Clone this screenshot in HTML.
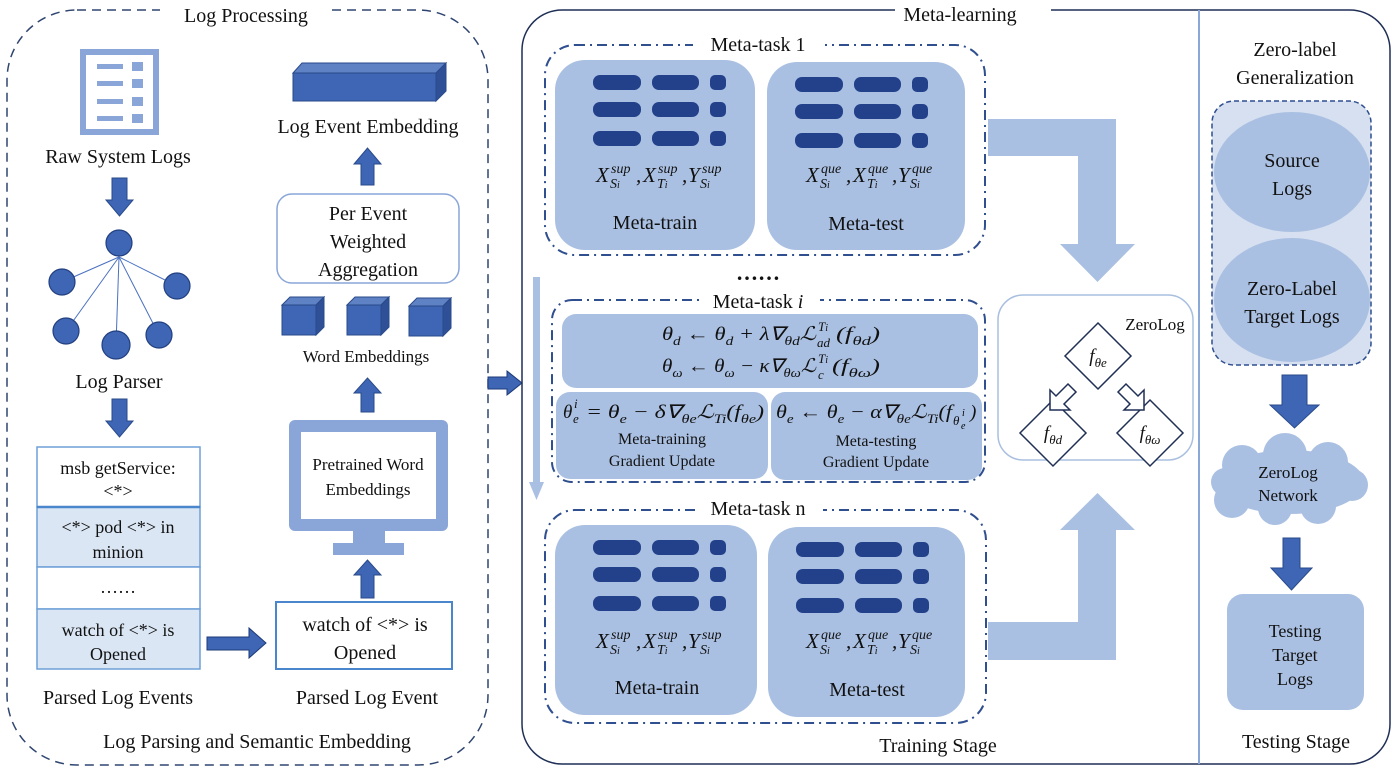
<!DOCTYPE html>
<html><head><meta charset="utf-8"><style>
html,body{margin:0;padding:0;background:#fff;}
svg{display:block;font-family:"Liberation Serif",serif;}
.t{font-size:20px;fill:#111;text-anchor:middle;}
.m{font-style:italic;font-size:19px;fill:#111;text-anchor:middle;}
.x{font-style:italic;font-size:21px;fill:#111;}
.s{font-style:italic;font-size:14px;fill:#111;}
.f{font-style:italic;font-size:19px;fill:#111;}
.fs{font-style:italic;font-size:13px;fill:#111;}
</style></head><body>
<svg width="1399" height="772" viewBox="0 0 1399 772" xmlns="http://www.w3.org/2000/svg">
<defs>
<g id="bars" fill="#22418a">
<rect x="0" y="0" width="48" height="15" rx="7"/><rect x="59" y="0" width="47" height="15" rx="7"/><rect x="117" y="0" width="16" height="15" rx="5"/>
<rect x="0" y="27" width="48" height="15" rx="7"/><rect x="59" y="27" width="47" height="15" rx="7"/><rect x="117" y="27" width="16" height="15" rx="5"/>
<rect x="0" y="56" width="48" height="15" rx="7"/><rect x="59" y="56" width="47" height="15" rx="7"/><rect x="117" y="56" width="16" height="15" rx="5"/>
</g>
<g id="cube"><polygon points="0,8 8,0 42,0 34,8" fill="#5f82c4" stroke="#2a4a8a" stroke-width="1"/><polygon points="34,8 42,0 42,30 34,38" fill="#2f5096" stroke="#2a4a8a" stroke-width="1"/><rect x="0" y="8" width="34" height="30" fill="#3e66b5" stroke="#2a4a8a" stroke-width="1"/></g>
<g id="fsup">
<text class="x" x="0" y="0">X</text><text class="s" x="15" y="-9">sup</text><text class="s" x="14" y="6">S<tspan font-size="10">i</tspan></text><text class="x" x="40" y="0">,</text>
<text class="x" x="47" y="0">X</text><text class="s" x="62" y="-9">sup</text><text class="s" x="61" y="6">T<tspan font-size="10">i</tspan></text><text class="x" x="86" y="0">,</text>
<text class="x" x="92" y="0">Y</text><text class="s" x="106" y="-9">sup</text><text class="s" x="104" y="6">S<tspan font-size="10">i</tspan></text>
</g>
<g id="fque">
<text class="x" x="0" y="0">X</text><text class="s" x="15" y="-9">que</text><text class="s" x="14" y="6">S<tspan font-size="10">i</tspan></text><text class="x" x="40" y="0">,</text>
<text class="x" x="47" y="0">X</text><text class="s" x="62" y="-9">que</text><text class="s" x="61" y="6">T<tspan font-size="10">i</tspan></text><text class="x" x="86" y="0">,</text>
<text class="x" x="92" y="0">Y</text><text class="s" x="106" y="-9">que</text><text class="s" x="104" y="6">S<tspan font-size="10">i</tspan></text>
</g>
</defs>

<!-- LEFT PANEL -->
<rect x="7" y="10" width="481" height="755" rx="70" fill="none" stroke="#2f4570" stroke-width="1.5" stroke-dasharray="9,6"/>
<rect x="160" y="2" width="172" height="22" fill="#fff"/>
<text class="t" x="246" y="22">Log Processing</text>

<rect x="83" y="52" width="73" height="80" fill="#fff" stroke="#8aa6d8" stroke-width="6"/>
<g fill="#8aa6d8"><rect x="97" y="64" width="26" height="5"/><rect x="97" y="81" width="26" height="5"/><rect x="97" y="99" width="26" height="5"/><rect x="97" y="116" width="26" height="5"/>
<rect x="132" y="62" width="11" height="9"/><rect x="132" y="79" width="11" height="9"/><rect x="132" y="97" width="11" height="9"/><rect x="132" y="114" width="11" height="9"/></g>
<text class="t" x="118" y="163">Raw System Logs</text>
<polygon points="112,178 127,178 127,200 133,200 119.5,216 106,200 112,200" fill="#3e66b5" stroke="#2a4a8a"/>
<g stroke="#4a70c0" stroke-width="1"><line x1="119" y1="257" x2="62" y2="282"/><line x1="119" y1="257" x2="177" y2="286"/><line x1="119" y1="257" x2="66" y2="331"/><line x1="119" y1="257" x2="116" y2="345"/><line x1="119" y1="257" x2="159" y2="335"/></g>
<g fill="#3e66b5" stroke="#223f80" stroke-width="1.2"><circle cx="119" cy="243" r="13"/><circle cx="62" cy="282" r="13"/><circle cx="177" cy="286" r="13"/><circle cx="66" cy="331" r="13"/><circle cx="116" cy="345" r="14"/><circle cx="159" cy="335" r="13"/></g>
<text class="t" x="119" y="388">Log Parser</text>
<polygon points="112,399 127,399 127,421 133,421 119.5,437 106,421 112,421" fill="#3e66b5" stroke="#2a4a8a"/>
<g stroke="#6fa0d8" stroke-width="1.5"><rect x="37" y="447" width="163" height="60" fill="#fff"/><rect x="37" y="507" width="163" height="60" fill="#dae6f4"/><rect x="37" y="567" width="163" height="42" fill="#fff"/><rect x="37" y="609" width="163" height="60" fill="#dae6f4"/></g>
<line x1="37" y1="507" x2="200" y2="507" stroke="#4a86cc" stroke-width="2.5"/>
<text class="t" style="font-size:18px" x="118" y="474">msb getService:</text><text class="t" style="font-size:18px" x="118" y="497">&lt;*&gt;</text>
<text class="t" style="font-size:18px" x="118" y="533">&lt;*&gt; pod &lt;*&gt; in</text><text class="t" style="font-size:18px" x="118" y="558">minion</text>
<text class="t" style="font-size:18px" x="118" y="593">……</text>
<text class="t" style="font-size:18px" x="118" y="636">watch of &lt;*&gt; is</text><text class="t" style="font-size:18px" x="118" y="660">Opened</text>
<text class="t" x="118" y="704">Parsed Log Events</text>
<polygon points="207,637 249,637 249,628 266,643 249,658 249,650 207,650" fill="#3e66b5" stroke="#1d3a78"/>
<rect x="276" y="602" width="176" height="67" fill="#fff" stroke="#4a86cc" stroke-width="2"/>
<text class="t" x="365" y="631">watch of &lt;*&gt; is</text><text class="t" x="365" y="659">Opened</text>
<text class="t" x="367" y="704">Parsed Log Event</text>
<text class="t" x="257" y="748">Log Parsing and Semantic Embedding</text>
<polygon points="361,598 374,598 374,575 381,575 367.5,560 354,575 361,575" fill="#3e66b5" stroke="#2a4a8a"/>
<rect x="289" y="420" width="159" height="111" rx="6" fill="#8aa6d8"/>
<rect x="301" y="432" width="135" height="87" fill="#fff"/>
<rect x="353" y="530" width="32" height="14" fill="#8aa6d8"/><rect x="333" y="543" width="71" height="12" fill="#8aa6d8"/>
<text class="t" style="font-size:17px" x="368" y="470">Pretrained Word</text><text class="t" style="font-size:17px" x="368" y="495">Embeddings</text>
<polygon points="361,412 374,412 374,393 381,393 367.5,378 354,393 361,393" fill="#3e66b5" stroke="#2a4a8a"/>
<text class="t" style="font-size:17px" x="366" y="362">Word Embeddings</text>
<use href="#cube" x="282" y="297"/><use href="#cube" x="347" y="297"/><use href="#cube" x="409" y="298"/>
<rect x="277" y="194" width="182" height="89" rx="15" fill="#fff" stroke="#8aa6d8" stroke-width="1.5"/>
<text class="t" x="368" y="220">Per Event</text><text class="t" x="368" y="248">Weighted</text><text class="t" x="368" y="276">Aggregation</text>
<polygon points="361,185 374,185 374,164 381,164 367.5,148 354,164 361,164" fill="#3e66b5" stroke="#2a4a8a"/>
<text class="t" x="368" y="133">Log Event Embedding</text>
<polygon points="293,73 302,63 446,63 436,73" fill="#5f82c4" stroke="#2a4a8a"/>
<polygon points="436,73 446,63 446,91 436,101" fill="#2f5096" stroke="#2a4a8a"/>
<rect x="293" y="73" width="143" height="28" fill="#3e66b5" stroke="#2a4a8a"/>

<polygon points="488,377 507,377 507,371 522,383 507,395 507,389 488,389" fill="#3e66b5" stroke="#1d3a78"/>

<!-- META PANEL -->
<rect x="522" y="10" width="868" height="754" rx="40" fill="none" stroke="#1f2f55" stroke-width="1.5"/>
<rect x="895" y="2" width="156" height="22" fill="#fff"/>
<text class="t" x="960" y="21">Meta-learning</text>
<line x1="1199" y1="10" x2="1199" y2="764" stroke="#8aa8d8" stroke-width="2"/>

<!-- task 1 -->
<rect x="545" y="45" width="440" height="210" rx="30" fill="none" stroke="#2f4f8f" stroke-width="2" stroke-dasharray="10,5,2,5"/>
<rect x="693" y="33" width="132" height="24" fill="#fff"/>
<text class="t" x="758" y="51">Meta-task 1</text>
<rect x="555" y="60" width="200" height="190" rx="30" fill="#aac0e2"/>
<rect x="767" y="62" width="198" height="188" rx="30" fill="#aac0e2"/>
<use href="#bars" x="593" y="75"/><use href="#bars" x="795" y="77"/>
<use href="#fsup" x="596" y="182"/><use href="#fque" x="806" y="182"/>
<text class="t" x="655" y="229">Meta-train</text><text class="t" x="866" y="230">Meta-test</text>

<text class="t" x="758" y="280" style="font-size:22px;font-weight:bold">……</text>
<rect x="533" y="277" width="7" height="205" fill="#aac0e2"/>
<polygon points="529,482 544,482 536.5,500" fill="#aac0e2"/>

<!-- task i -->
<rect x="552" y="300" width="433" height="182" rx="20" fill="none" stroke="#2f4f8f" stroke-width="2" stroke-dasharray="10,5,2,5"/>
<rect x="700" y="290" width="120" height="22" fill="#fff"/>
<text class="t" x="758" y="308">Meta-task <tspan font-style="italic">i</tspan></text>
<rect x="562" y="314" width="416" height="74" rx="14" fill="#aac0e2"/>
<rect x="556" y="392" width="212" height="87" rx="14" fill="#aac0e2"/>
<rect x="771" y="392" width="211" height="88" rx="14" fill="#aac0e2"/>

<text class="f" x="662" y="340" textLength="154" lengthAdjust="spacingAndGlyphs">θ<tspan class="fs" dy="5">d</tspan><tspan dy="-5"> ← θ</tspan><tspan class="fs" dy="5">d</tspan><tspan dy="-5"> + λ∇</tspan><tspan class="fs" dy="5">θd</tspan><tspan dy="-5">ℒ</tspan></text>
<text class="fs" x="818" y="331">T<tspan font-size="10">i</tspan></text><text class="fs" x="817" y="347">ad</text>
<text class="f" x="836" y="340" textLength="44" lengthAdjust="spacingAndGlyphs">(f<tspan class="fs" dy="5">θd</tspan><tspan dy="-5">)</tspan></text>

<text class="f" x="662" y="372" textLength="154" lengthAdjust="spacingAndGlyphs">θ<tspan class="fs" dy="5">ω</tspan><tspan dy="-5"> ← θ</tspan><tspan class="fs" dy="5">ω</tspan><tspan dy="-5"> − κ∇</tspan><tspan class="fs" dy="5">θω</tspan><tspan dy="-5">ℒ</tspan></text>
<text class="fs" x="818" y="363">T<tspan font-size="10">i</tspan></text><text class="fs" x="818" y="379">c</text>
<text class="f" x="832" y="372" textLength="48" lengthAdjust="spacingAndGlyphs">(f<tspan class="fs" dy="5">θω</tspan><tspan dy="-5">)</tspan></text>

<text class="f" x="563" y="418">θ</text><text class="fs" x="574" y="408">i</text><text class="fs" x="573" y="423">e</text>
<text class="f" x="586" y="418" textLength="178" lengthAdjust="spacingAndGlyphs">= θ<tspan class="fs" dy="5">e</tspan><tspan dy="-5"> − δ∇</tspan><tspan class="fs" dy="5">θe</tspan><tspan dy="-5">ℒ</tspan><tspan class="fs" dy="5">Ti</tspan><tspan dy="-5">(f</tspan><tspan class="fs" dy="5">θe</tspan><tspan dy="-5">)</tspan></text>

<text class="f" x="776" y="418" textLength="176" lengthAdjust="spacingAndGlyphs">θ<tspan class="fs" dy="5">e</tspan><tspan dy="-5"> ← θ</tspan><tspan class="fs" dy="5">e</tspan><tspan dy="-5"> − α∇</tspan><tspan class="fs" dy="5">θe</tspan><tspan dy="-5">ℒ</tspan><tspan class="fs" dy="5">Ti</tspan><tspan dy="-5">(f</tspan></text>
<text class="fs" x="953" y="425">θ</text><text style="font-style:italic;font-size:10px" x="961" y="429">e</text><text style="font-style:italic;font-size:10px" x="962" y="416">i</text>
<text class="f" x="970" y="418">)</text>

<text class="t" style="font-size:16px" x="662" y="444">Meta-training</text><text class="t" style="font-size:16px" x="662" y="466">Gradient Update</text>
<text class="t" style="font-size:16px" x="876" y="446">Meta-testing</text><text class="t" style="font-size:16px" x="876" y="467">Gradient Update</text>

<!-- task n -->
<rect x="545" y="510" width="441" height="213" rx="30" fill="none" stroke="#2f4f8f" stroke-width="2" stroke-dasharray="10,5,2,5"/>
<rect x="695" y="500" width="128" height="24" fill="#fff"/>
<text class="t" x="758" y="515">Meta-task n</text>
<rect x="555" y="525" width="202" height="190" rx="30" fill="#aac0e2"/>
<rect x="768" y="527" width="197" height="190" rx="30" fill="#aac0e2"/>
<use href="#bars" x="593" y="540"/><use href="#bars" x="796" y="542"/>
<use href="#fsup" x="596" y="648"/><use href="#fque" x="806" y="648"/>
<text class="t" x="657" y="694">Meta-train</text><text class="t" x="867" y="696">Meta-test</text>
<text class="t" x="938" y="752">Training Stage</text>

<!-- big L arrows -->
<polygon points="988,119 1116,119 1116,244 1135,244 1097.5,282 1060,244 1078,244 1078,156 988,156" fill="#aac0e2"/>
<polygon points="988,660 1116,660 1116,530 1135,530 1097.5,493 1060,530 1078,530 1078,622 988,622" fill="#aac0e2"/>

<!-- ZeroLog box -->
<rect x="998" y="295" width="195" height="165" rx="25" fill="#fff" stroke="#a9bfe0" stroke-width="1.5"/>
<text class="t" style="font-size:17px" x="1155" y="330">ZeroLog</text>
<g fill="#fff" stroke="#1f2f55" stroke-width="1.5">
<polygon points="1098,323 1131,356 1098,389 1065,356"/>
<polygon points="1053,400 1086,433 1053,466 1020,433"/>
<polygon points="1150,400 1183,433 1150,466 1117,433"/>
<polygon points="1068,384 1076,392 1064,404 1070,410 1050,410 1050,390 1056,396"/>
<polygon points="1118,392 1126,384 1138,396 1144,390 1144,410 1124,410 1130,404"/>
</g>
<text class="m" x="1098" y="362">f<tspan font-size="13" dy="5">θe</tspan></text>
<text class="m" x="1053" y="439">f<tspan font-size="13" dy="5">θd</tspan></text>
<text class="m" x="1150" y="439">f<tspan font-size="13" dy="5">θω</tspan></text>

<!-- right panel -->
<text class="t" x="1295" y="56">Zero-label</text><text class="t" x="1295" y="84">Generalization</text>
<rect x="1212" y="101" width="159" height="264" rx="22" fill="#d6e0f0" stroke="#2f4f8f" stroke-width="1.5" stroke-dasharray="5,3"/>
<ellipse cx="1292" cy="172" rx="78" ry="60" fill="#aac0e2"/>
<ellipse cx="1292" cy="300" rx="78" ry="62" fill="#aac0e2"/>
<text class="t" x="1292" y="167">Source</text><text class="t" x="1292" y="195">Logs</text>
<text class="t" x="1292" y="295">Zero-Label</text><text class="t" x="1292" y="323">Target Logs</text>
<polygon points="1282,375 1307,375 1307,405 1319,405 1294.5,428 1270,405 1282,405" fill="#3e66b5" stroke="#2a4a8a"/>
<g fill="#aac0e2">
<ellipse cx="1290" cy="482" rx="74" ry="32"/><circle cx="1242" cy="465" r="20"/><circle cx="1285" cy="455" r="22"/><circle cx="1328" cy="462" r="20"/><circle cx="1232" cy="500" r="18"/><circle cx="1275" cy="508" r="17"/><circle cx="1318" cy="506" r="18"/><circle cx="1352" cy="485" r="16"/><circle cx="1225" cy="482" r="14"/></g>
<text class="t" style="font-size:17px" x="1288" y="478">ZeroLog</text><text class="t" style="font-size:17px" x="1288" y="501">Network</text>
<polygon points="1283,538 1300,538 1300,568 1312,568 1291.5,590 1271,568 1283,568" fill="#3e66b5" stroke="#2a4a8a"/>
<rect x="1227" y="594" width="137" height="116" rx="16" fill="#aac0e2"/>
<text class="t" style="font-size:18px" x="1295" y="637">Testing</text><text class="t" style="font-size:18px" x="1295" y="661">Target</text><text class="t" style="font-size:18px" x="1295" y="685">Logs</text>
<text class="t" x="1296" y="748">Testing Stage</text>
</svg>
</body></html>
